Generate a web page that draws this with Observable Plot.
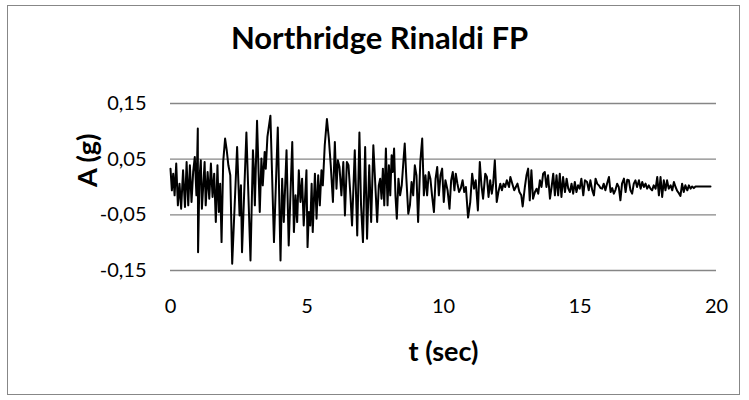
<!DOCTYPE html>
<html>
<head>
<meta charset="utf-8">
<script src="https://cdn.jsdelivr.net/npm/d3@7"></script>
<script src="https://cdn.jsdelivr.net/npm/@observablehq/plot@0.6"></script>
<style>
  html, body { margin: 0; padding: 0; background: #fff; }
  #chart { position: relative; width: 749px; height: 400px; overflow: hidden; }
  #frame { position: absolute; left: 7px; top: 5px; width: 733px; height: 390px; border: 1px solid #878787; box-sizing: border-box; }
  #chart svg { position: absolute; left: 0; top: 0; }
</style>
</head>
<body>
<div id="chart"><div id="frame"></div></div>
<script>
// Chart texts
const title = "Northridge Rinaldi FP";
const xLabel = "t (sec)";
const yLabel = "A (g)";

// Axis ticks and their labels
const xTicks = [0, 5, 10, 15, 20];
const yTicks = [-0.15, -0.05, 0.05, 0.15];
const yTickLabels = ["-0,15", "-0,05", "0,05", "0,15"];

// Ground acceleration record: time (s) and acceleration (g)
const time = [
  0.00, 0.05, 0.10, 0.15, 0.21, 0.27, 0.33, 0.39, 0.46, 0.53,
  0.59, 0.65, 0.71, 0.77, 0.83, 0.89, 0.95, 1.00, 1.01, 1.06,
  1.11, 1.15, 1.20, 1.25, 1.29, 1.36, 1.42, 1.48, 1.54, 1.60,
  1.66, 1.72, 1.77, 1.82, 1.87, 1.93, 2.00, 2.06, 2.12, 2.19,
  2.26, 2.44, 2.53, 2.58, 2.62, 2.78, 2.93, 3.02, 3.05, 3.09,
  3.17, 3.27, 3.33, 3.38, 3.45, 3.49, 3.55, 3.66, 3.79, 3.93,
  4.03, 4.09, 4.15, 4.25, 4.33, 4.46, 4.52, 4.58, 4.64, 4.70,
  4.76, 4.82, 4.88, 4.98, 5.02, 5.07, 5.12, 5.17, 5.21, 5.29,
  5.35, 5.41, 5.47, 5.53, 5.58, 5.65, 5.73, 5.80, 5.87, 5.95,
  6.02, 6.08, 6.13, 6.19, 6.26, 6.33, 6.39, 6.46, 6.52, 6.59,
  6.65, 6.75, 6.84, 6.92, 6.98, 7.05, 7.13, 7.20, 7.28, 7.35,
  7.43, 7.57, 7.63, 7.68, 7.73, 7.78, 7.83, 7.89, 7.95, 8.00,
  8.05, 8.10, 8.14, 8.19, 8.24, 8.29, 8.35, 8.41, 8.47, 8.53,
  8.58, 8.64, 8.71, 8.77, 8.83, 8.89, 8.95, 9.01, 9.07, 9.15,
  9.22, 9.28, 9.34, 9.40, 9.46, 9.52, 9.58, 9.65, 9.71, 9.77,
  9.83, 9.89, 9.95, 10.01, 10.07, 10.15, 10.22, 10.28, 10.34, 10.40,
  10.45, 10.51, 10.57, 10.63, 10.70, 10.76, 10.82, 10.90, 10.98, 11.05,
  11.12, 11.18, 11.26, 11.33, 11.39, 11.45, 11.53, 11.59, 11.65, 11.71,
  11.77, 11.82, 11.88, 11.95, 12.01, 12.08, 12.14, 12.20, 12.26, 12.32,
  12.40, 12.45, 12.52, 12.59, 12.65, 12.71, 12.78, 12.85, 12.90, 12.98,
  13.04, 13.10, 13.16, 13.22, 13.28, 13.35, 13.41, 13.47, 13.53, 13.59,
  13.65, 13.71, 13.77, 13.83, 13.90, 13.96, 14.02, 14.08, 14.14, 14.20,
  14.26, 14.32, 14.38, 14.45, 14.51, 14.57, 14.63, 14.69, 14.75, 14.81,
  14.87, 14.93, 14.99, 15.05, 15.12, 15.18, 15.26, 15.32, 15.38, 15.45,
  15.51, 15.57, 15.63, 15.69, 15.75, 15.81, 15.87, 15.93, 15.99, 16.06,
  16.12, 16.18, 16.24, 16.30, 16.36, 16.42, 16.48, 16.54, 16.61, 16.67,
  16.73, 16.79, 16.85, 16.91, 16.97, 17.03, 17.09, 17.16, 17.22, 17.28,
  17.34, 17.40, 17.46, 17.52, 17.58, 17.64, 17.70, 17.77, 17.83, 17.89,
  17.95, 18.01, 18.07, 18.13, 18.19, 18.25, 18.32, 18.38, 18.44, 18.50,
  18.56, 18.62, 18.68, 18.74, 18.80, 18.86, 18.93, 18.99, 19.05, 19.11,
  19.17, 19.23, 19.29, 19.78
];
const accel = [
  0.033, -0.006, 0.024, -0.015, 0.042, -0.033, 0.006, -0.039, 0.030, -0.036,
  0.045, -0.033, 0.039, -0.027, 0.027, 0.054, -0.015, 0.105, -0.117, 0.015,
  0.048, -0.039, 0.003, 0.045, -0.033, 0.027, -0.021, 0.042, -0.018, 0.024,
  -0.063, 0.039, -0.045, 0.006, -0.099, 0.045, 0.087, 0.066, 0.039, 0.021,
  -0.138, 0.072, -0.051, 0.003, -0.117, 0.098, -0.132, 0.066, 0.036, -0.033,
  0.119, -0.045, 0.051, 0.003, 0.063, 0.033, 0.090, 0.128, -0.099, 0.107,
  -0.132, 0.015, -0.063, 0.066, -0.105, 0.081, -0.081, -0.015, -0.063, 0.030,
  -0.027, 0.015, -0.069, 0.030, -0.108, -0.045, -0.069, 0.006, -0.081, 0.024,
  -0.057, 0.021, -0.033, 0.030, 0.003, 0.075, 0.122, 0.087, 0.039, -0.027,
  0.081, -0.003, 0.048, 0.036, -0.015, 0.045, -0.051, 0.045, 0.039, -0.015,
  -0.069, 0.066, -0.087, 0.098, -0.033, -0.099, 0.072, -0.093, 0.039, -0.063,
  0.075, -0.063, 0.003, 0.015, -0.021, 0.033, -0.033, 0.069, -0.033, 0.039,
  -0.015, 0.057, 0.027, 0.069, -0.015, -0.057, 0.015, -0.015, 0.003, 0.045,
  0.078, 0.015, -0.048, -0.033, 0.009, -0.015, 0.039, 0.021, -0.063, 0.045,
  0.087, -0.015, 0.021, -0.015, 0.027, 0.015, -0.015, -0.045, 0.015, 0.036,
  -0.015, 0.021, 0.033, -0.027, 0.012, -0.006, -0.039, 0.012, 0.027, -0.006,
  0.024, 0.006, -0.009, -0.003, 0.012, -0.009, 0.000, -0.055, -0.027, 0.024,
  -0.003, 0.012, -0.042, 0.045, 0.003, -0.021, 0.024, 0.018, -0.018, 0.012,
  -0.012, 0.006, 0.048, -0.027, -0.009, 0.006, -0.006, 0.006, 0.000, 0.012,
  0.000, 0.018, 0.006, -0.006, 0.000, 0.006, -0.009, -0.015, -0.035, 0.000,
  0.021, 0.033, -0.024, 0.030, -0.021, -0.009, -0.003, -0.012, 0.012, 0.000,
  0.024, 0.027, 0.000, 0.021, -0.021, 0.000, 0.024, -0.015, 0.021, -0.015,
  0.024, -0.018, 0.018, -0.009, 0.015, -0.003, -0.009, 0.006, -0.012, 0.009,
  -0.009, 0.003, -0.003, 0.015, -0.015, 0.012, 0.009, -0.006, 0.012, -0.006,
  -0.015, 0.015, 0.006, 0.003, -0.002, -0.003, 0.006, -0.006, 0.006, 0.018,
  -0.009, -0.002, -0.012, -0.005, 0.006, 0.000, -0.024, 0.006, 0.015, -0.009,
  0.013, 0.012, -0.006, -0.012, 0.006, 0.012, 0.000, 0.012, -0.003, 0.009,
  0.000, 0.006, -0.003, 0.003, -0.003, -0.006, 0.003, -0.003, 0.018, -0.015,
  0.018, -0.018, 0.012, -0.006, 0.012, -0.003, 0.003, -0.006, 0.009, 0.000,
  -0.007, -0.011, -0.016, 0.006, -0.009, 0.003, -0.006, 0.003, -0.003, 0.001,
  -0.002, 0.001, 0.001, 0.001
];

const records = time.map((t, i) => ({t, a: accel[i]}));

const gridColor = "#868686";
const font = "Lato, 'Open Sans', sans-serif";

const chart = Plot.plot({
  width: 749,
  height: 400,
  marginLeft: 170,
  marginRight: 33,
  marginTop: 103,
  marginBottom: 130,
  style: {fontFamily: font, color: "#000", background: "transparent", overflow: "visible"},
  x: {domain: [0, 20]},
  y: {domain: [-0.15, 0.15]},
  marks: [
    Plot.ruleY(yTicks, {stroke: gridColor, strokeWidth: 1.4}),
    Plot.axisX(xTicks, {tickSize: 0, tickPadding: 28, fontSize: 20, label: null}),
    Plot.axisY(yTicks, {
      tickSize: 0,
      tickPadding: 24,
      fontSize: 20,
      label: null,
      tickFormat: d => yTickLabels[yTicks.indexOf(d)]
    }),
    Plot.line(records, {x: "t", y: "a", stroke: "#000", strokeWidth: 2, strokeLinejoin: "round"}),
    Plot.text([title], {text: d => d, frameAnchor: "top", dx: -64, dy: -64, fontSize: 31, fontWeight: "bold", lineAnchor: "middle"}),
    Plot.text([yLabel], {text: d => d, frameAnchor: "left", dx: -82, rotate: -90, fontSize: 27, fontWeight: "bold", lineAnchor: "middle"}),
    Plot.text([xLabel], {text: d => d, frameAnchor: "bottom", dy: 82, fontSize: 27, fontWeight: "bold", lineAnchor: "middle"})
  ]
});

document.getElementById("chart").appendChild(chart);
</script>
</body>
</html>
